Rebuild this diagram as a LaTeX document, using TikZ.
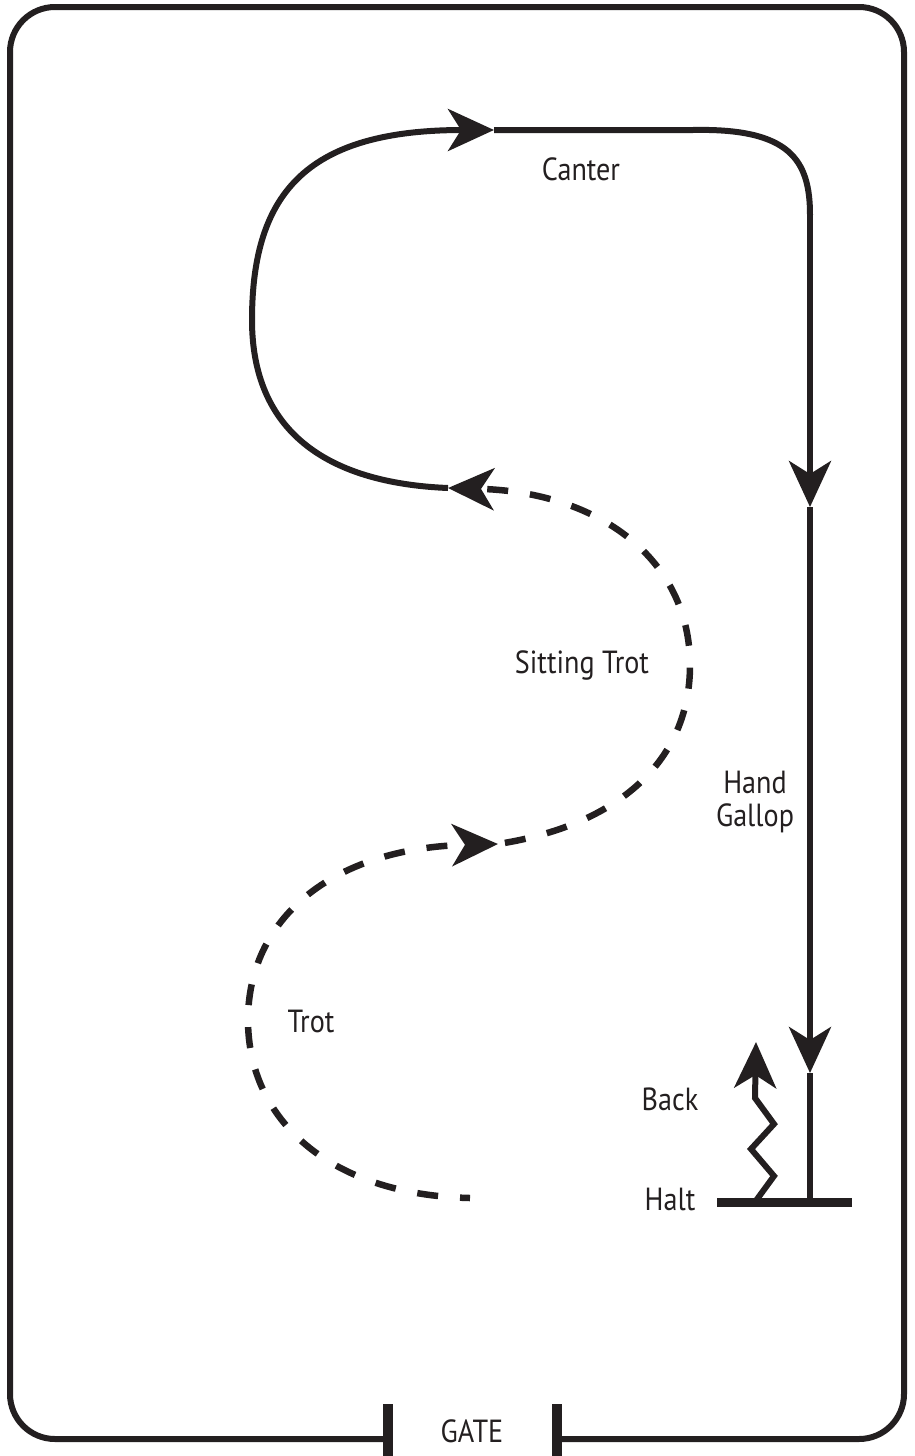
\documentclass[tikz,border=0pt]{standalone}
\usepackage{fontspec}
\setmainfont[FakeStretch=0.88]{PT Sans}
\usetikzlibrary{arrows.meta}
\definecolor{ink}{HTML}{231F20}

\begin{document}
\begin{tikzpicture}[x=1pt, y=-1pt,
  track/.style={draw=ink, line width=6pt, line join=round},
  dashtrack/.style={draw=ink, line width=6.5pt, dash pattern=on 21pt off 22pt},
  tip/.style={-{Stealth[length=46pt, width=42pt, inset=13pt]}},
  post/.style={draw=ink, line width=10pt},
  lbl/.style={font=\fontsize{32}{33}\selectfont, anchor=base, inner sep=0pt, text=ink}]
\useasboundingbox (0,0) rectangle (914,1456);
% arena with gate
\draw[track, rounded corners=45pt] (385,1439) -- (10,1439) -- (10,7) -- (904,7)
  -- (904,1439) -- (556,1439);
\draw[post] (388,1404) -- (388,1456);
\draw[post] (557,1404) -- (557,1456);
\node[lbl] (gate) at (472,1442) {GATE};
% points of the ride
\coordinate (trotstart) at (470,1198);
\coordinate (trotend) at (498,844);
\coordinate (sitend) at (448,488);
\coordinate (canterin) at (494,130);
\coordinate (cornerin) at (693,130);
\coordinate (cornerout) at (810,215);
\coordinate (gallopa) at (810,507);
\coordinate (gallopb) at (810,1073);
\coordinate (haltpt) at (810,1202);
\coordinate (haltl) at (717,1202);
\coordinate (haltr) at (852,1202);
\coordinate (backstart) at (755,1202);
\coordinate (backend) at (756,1042);
% trot and sitting trot
\draw[dashtrack, dash phase=11pt, tip] (trotstart) .. controls (330,1195) and (248,1120) .. (248,1020)
  .. controls (248,920) and (330,848) .. (trotend);
\draw[dashtrack, dash phase=36pt, tip] (trotend) .. controls (620,825) and (690,760) .. (690,665)
  .. controls (690,560) and (600,492) .. (sitend);
% canter
\draw[track, tip] (sitend) .. controls (325,483) and (252,430) .. (252,320)
  .. controls (252,190) and (310,130) .. (canterin);
\draw[track] (canterin) -- (cornerin) .. controls (790,128) and (810,160) .. (cornerout);
% hand gallop down to halt
\draw[track, tip] (cornerout) -- (gallopa);
\draw[track, tip] (gallopa) -- (gallopb);
\draw[track] (gallopb) -- (haltpt);
\draw[draw=ink, line width=9pt] (haltl) -- (haltr);
% rein back
\draw[track, line join=miter, tip] (backstart) -- (774,1176) -- (751,1149) -- (774,1124)
  -- (755,1098) -- (backend);
% labels
\node[lbl] (canter) at (581,180) {Canter};
\node[lbl] (sitting) at (582,673) {Sitting Trot};
\node[lbl] (hand) at (755,793) {Hand};
\node[lbl] (gallop) at (755,826) {Gallop};
\node[lbl] (trot) at (311,1032) {Trot};
\node[lbl] (back) at (670,1110) {Back};
\node[lbl] (halt) at (670,1210) {Halt};
\end{tikzpicture}
\end{document}
